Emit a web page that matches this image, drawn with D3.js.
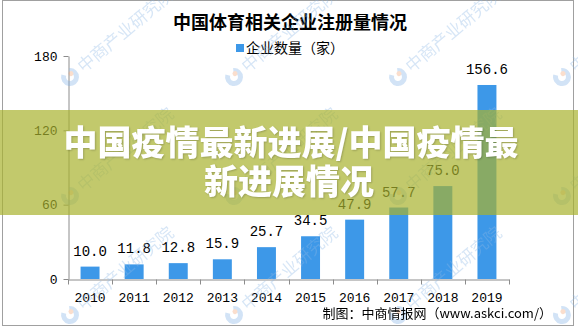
<!DOCTYPE html>
<html>
<head>
<meta charset="utf-8">
<script src="https://cdn.jsdelivr.net/npm/d3@7"></script>
<style>
  body { margin: 0; background: #fff; }
  svg { display: block; }
  .num { font-family: "Liberation Mono", "DejaVu Sans Mono", monospace; font-size: 13px; fill: #000; }
</style>
</head>
<body>
<div class="chart"></div>
<script>
var years = ["2010", "2011", "2012", "2013", "2014", "2015", "2016", "2017", "2018", "2019"];
var counts = [10.0, 11.8, 12.8, 15.9, 25.7, 34.5, 47.9, 57.7, 75.0, 156.6];
var yTicks = [0, 60, 120, 180];
var data = years.map(function(y, i) { return { year: y, count: counts[i] }; });

var svgWidth = 578;
var svgHeight = 328;

var svg = d3.select(".chart")
  .append("svg")
  .attr("width", svgWidth)
  .attr("height", svgHeight);

// outer frame
svg.append("rect")
  .attr("x", 2.5).attr("y", 0.5)
  .attr("width", 571).attr("height", 325)
  .attr("fill", "#fff")
  .attr("stroke", "#a0a0a0");

var x = d3.scaleBand()
  .domain(years)
  .range([68, 509])
  .paddingInner(0.57)
  .paddingOuter(0.285);

var y = d3.scaleLinear()
  .domain([0, 180])
  .range([279, 56]);

// title + legend
svg.append("text")
  .attr("x", 290).attr("y", 29)
  .attr("text-anchor", "middle")
  .attr("font-family", "Noto Sans CJK SC")
  .attr("font-weight", "bold")
  .attr("font-size", 18)
  .text("中国体育相关企业注册量情况");

svg.append("rect")
  .attr("x", 236).attr("y", 44)
  .attr("width", 8).attr("height", 8)
  .attr("fill", "#3d98e8");

svg.append("text")
  .attr("x", 246).attr("y", 53)
  .attr("font-family", "Noto Sans CJK SC")
  .attr("font-size", 14)
  .text("企业数量（家）");

// axes
var leftAxis = d3.axisLeft(y).tickValues(yTicks).tickSize(5).tickSizeOuter(0).tickPadding(6);
var yAxisG = svg.append("g")
  .attr("transform", "translate(68.5,0)")
  .call(leftAxis);
yAxisG.selectAll("path, line").attr("stroke", "#8c8c8c");
yAxisG.selectAll("text").attr("class", "num").attr("font-family", null).attr("font-size", null);

var bottomAxis = d3.axisBottom(x).tickSize(0).tickSizeOuter(0).tickPadding(13);
var xAxisG = svg.append("g")
  .attr("transform", "translate(0,279.5)")
  .call(bottomAxis);
xAxisG.select("path").attr("stroke", "#8c8c8c");
xAxisG.selectAll("text").attr("class", "num").attr("font-family", null).attr("font-size", null);

var edge = (x.step() - x.bandwidth()) / 2;
xAxisG.selectAll(".sep")
  .data(years.concat(["end"]))
  .enter()
  .append("line")
  .attr("x1", function(d, i) { return Math.round(x(years[0]) - edge + i * x.step()) + 0.5; })
  .attr("x2", function(d, i) { return Math.round(x(years[0]) - edge + i * x.step()) + 0.5; })
  .attr("y1", 0).attr("y2", 5)
  .attr("stroke", "#8c8c8c");

// bars
svg.selectAll(".bar")
  .data(data)
  .enter()
  .append("rect")
  .attr("x", d => x(d.year))
  .attr("y", d => y(d.count))
  .attr("width", x.bandwidth())
  .attr("height", d => y(0) - y(d.count))
  .attr("fill", "#3d98e8");

svg.selectAll(".lbl")
  .data(data)
  .enter()
  .append("text")
  .attr("class", "num")
  .attr("x", d => x(d.year) + x.bandwidth() / 2)
  .attr("y", d => y(d.count) - 11)
  .attr("text-anchor", "middle")
  .style("font-size", "14px")
  .text(d => d.count.toFixed(1));

// watermarks
var wmX = [70, 234, 398, 562];
var wmY = [77, 196, 315];
var wm = svg.append("g").attr("opacity", 0.35);
wmY.forEach(function(wy) {
  wmX.forEach(function(wx) {
    var g = wm.append("g").attr("transform", "translate(" + wx + "," + wy + ") rotate(-40)");
    g.append("path")
      .attr("d", d3.arc()({ innerRadius: 4, outerRadius: 9, startAngle: 0.6, endAngle: 5.7 }))
      .attr("fill", "#7fb0e6");
    g.append("circle").attr("cx", 3).attr("cy", -2).attr("r", 2.5).attr("fill", "#f0a070");
    g.append("text")
      .attr("x", 13).attr("y", 6)
      .attr("font-family", "Noto Sans CJK SC")
      .attr("font-size", 17)
      .attr("fill", "#8db8e6")
      .text("中商产业研究院");
  });
});

// footer
svg.append("text")
  .attr("x", 552).attr("y", 318)
  .attr("text-anchor", "end")
  .attr("font-family", "Noto Sans CJK SC")
  .attr("font-size", 13)
  .text("制图：中商情报网（www.askci.com/）");

// banner overlay
svg.append("rect")
  .attr("x", 0).attr("y", 110)
  .attr("width", svgWidth).attr("height", 105)
  .attr("fill", "rgb(168,178,46)")
  .attr("opacity", 0.7);

var banner = svg.append("text")
  .attr("text-anchor", "middle")
  .attr("font-family", "Noto Sans CJK SC")
  .attr("font-weight", 900)
  .attr("font-size", 34)
  .attr("fill", "#fff")
  .style("text-shadow", "1px 1px 2px rgba(0,0,0,0.2)");
banner.append("tspan").attr("x", 291).attr("y", 155).text("中国疫情最新进展/中国疫情最");
banner.append("tspan").attr("x", 289).attr("y", 194).text("新进展情况");
</script>
</body>
</html>
